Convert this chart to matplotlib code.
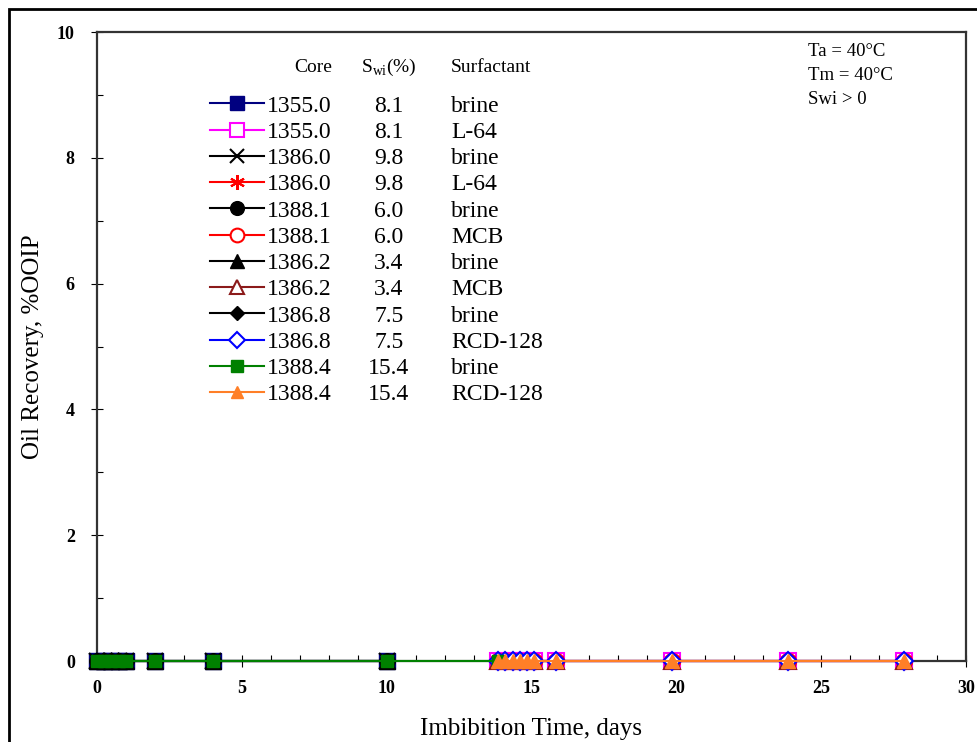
import numpy as np
import matplotlib
matplotlib.use("Agg")
import matplotlib.pyplot as plt

plt.rcParams['font.family'] = ['Liberation Serif', 'DejaVu Serif']

# data (all recoveries read as zero)
brine_t = [0, 0.25, 0.5, 0.75, 1.0, 2.0, 4.0, 10.0]
green_t = [0, 0.25, 0.5, 0.75, 1.0, 2.0, 4.0, 10.0, 13.85]
surf_t = [13.85, 14.1, 14.35, 14.6, 14.85, 15.1, 15.85, 19.85, 23.85, 27.85]

cores = ['1355.0', '1355.0', '1386.0', '1386.0', '1388.1', '1388.1',
         '1386.2', '1386.2', '1386.8', '1386.8', '1388.4', '1388.4']
swi = ['8.1', '8.1', '9.8', '9.8', '6.0', '6.0', '3.4', '3.4', '7.5', '7.5', '15.4', '15.4']
surfactant = ['brine', 'L-64', 'brine', 'L-64', 'brine', 'MCB', 'brine', 'MCB',
              'brine', 'RCD-128', 'brine', 'RCD-128']

times = [brine_t, surf_t, brine_t, surf_t, brine_t, surf_t,
         brine_t, surf_t, brine_t, surf_t, green_t, surf_t]
recovery = [[0.0] * len(t) for t in times]

styles = [
    dict(color='#000080', marker='s', ms=11, mfc='#000080'),
    dict(color='#ff00ff', marker='s', ms=11, mfc='white', mew=1.5),
    dict(color='black', marker='x', ms=11, mew=1.5),
    dict(color='#ff0000', marker=(6, 2, 0), ms=12, mew=1.5),
    dict(color='black', marker='o', ms=11, mfc='black'),
    dict(color='#ff0000', marker='o', ms=11, mfc='white', mew=1.5),
    dict(color='black', marker='^', ms=11, mfc='black'),
    dict(color='#8b1a1a', marker='^', ms=11, mfc='white', mew=1.5),
    dict(color='black', marker='D', ms=8, mfc='black'),
    dict(color='#0000ff', marker='D', ms=9, mfc='white', mew=1.5),
    dict(color='#008000', marker='s', ms=9, mfc='#008000'),
    dict(color='#ff7f27', marker='^', ms=10, mfc='#ff7f27'),
]

fig = plt.figure(figsize=(9.77, 7.42), dpi=100)
ax = fig.add_axes([97 / 977, 1 - 661 / 742, 869 / 977, 629 / 742])

for i in range(len(cores)):
    ax.plot(times[i], recovery[i], lw=1.5, label=cores[i], clip_on=False,
            zorder=3 + i, **styles[i])

ax.set_xlim(0, 30)
ax.set_ylim(0, 10)
ax.set_xticks(np.arange(0, 31, 5))
ax.set_xticks(np.arange(0, 31, 1), minor=True)
ax.set_yticks(np.arange(0, 11, 2))
ax.set_yticks(np.arange(0, 11, 1), minor=True)
ax.tick_params(which='major', direction='inout', length=8, width=0.8, labelsize=13, pad=10)
ax.tick_params(which='minor', direction='in', length=4, width=0.8)
ax.tick_params(axis='y', which='major', pad=12)
for lab in ax.get_xticklabels() + ax.get_yticklabels():
    lab.set_fontweight('bold')
for s in ax.spines.values():
    s.set_linewidth(1.6)
    s.set_color('#333333')

ax.set_xlabel('Imbibition Time, days', fontsize=18, labelpad=15)
ax.set_ylabel('Oil Recovery, %OOIP', fontsize=18, labelpad=9)

leg = ax.legend(loc='upper left', bbox_to_anchor=((210 - 97) / 869, (661 - 95) / 629),
                frameon=False, fontsize=17, handlelength=2.3, handletextpad=0.1,
                borderpad=0, borderaxespad=0, labelspacing=0.2, markerscale=0.9)

fig.canvas.draw()
for txt, s, f in zip(leg.get_texts(), swi, surfactant):
    bb = txt.get_window_extent()
    yc = (bb.y0 + bb.y1) / 2 / 742
    fig.text(389 / 977, yc, s, fontsize=17, ha='center', va='center')
    fig.text(451 / 977, yc, f, fontsize=17, ha='left', va='center')

hy = 1 - 67 / 742
fig.text(332 / 977, hy, 'Core', fontsize=14, ha='right', va='center')
fig.text(389 / 977, hy, r'S$_{\mathregular{wi}}$(%)', fontsize=14, ha='center', va='center')
fig.text(451 / 977, hy, 'Surfactant', fontsize=14, ha='left', va='center')

for k, t in enumerate(['Ta = 40°C', 'Tm = 40°C', 'Swi > 0']):
    fig.text(808 / 977, 1 - (52 + 24 * k) / 742, t, fontsize=13.5, ha='left', va='center')

fig.add_artist(plt.Rectangle((9 / 977, -0.05), 1.2, 1 - 9 / 742 + 0.05,
                             transform=fig.transFigure, fill=False, lw=2, ec='black'))

fig.savefig('out.png', dpi=100)
